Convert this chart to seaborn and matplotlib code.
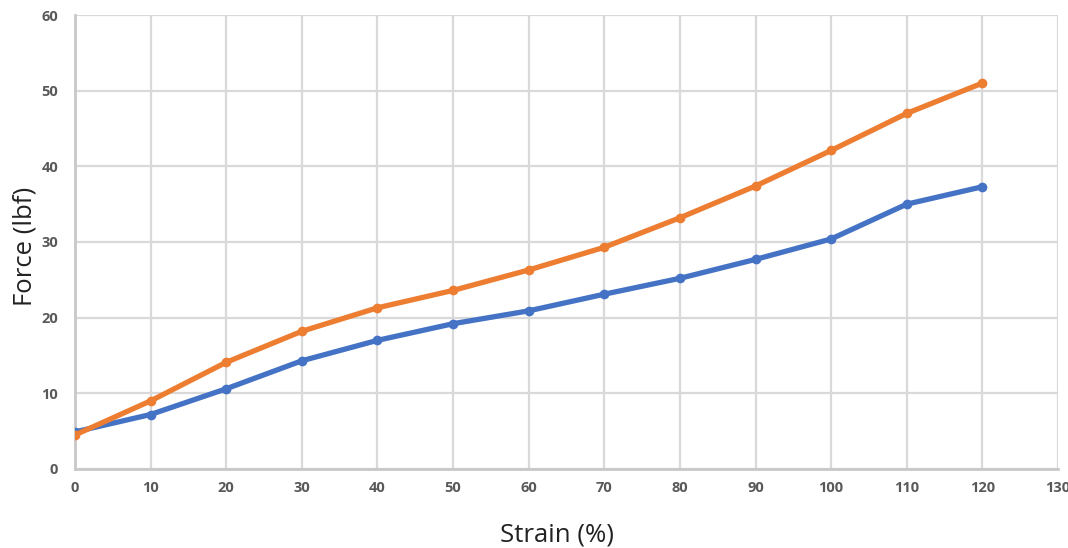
import matplotlib
matplotlib.use("Agg")
import matplotlib.pyplot as plt
import seaborn as sns
import pandas as pd

# strain (%) and measured force (lbf) for the two samples
strain = [0, 10, 20, 30, 40, 50, 60, 70, 80, 90, 100, 110, 120]
force_blue = [4.9, 7.2, 10.6, 14.3, 17.0, 19.2, 20.9, 23.1, 25.2, 27.7, 30.4, 35.0, 37.3]
force_orange = [4.5, 9.0, 14.1, 18.2, 21.3, 23.6, 26.3, 29.3, 33.2, 37.4, 42.1, 47.0, 51.0]

x_ticks = [0, 10, 20, 30, 40, 50, 60, 70, 80, 90, 100, 110, 120, 130]
y_ticks = [0, 10, 20, 30, 40, 50, 60]

df = pd.DataFrame({
    "strain": strain * 2,
    "force": force_blue + force_orange,
    "series": ["blue"] * len(strain) + ["orange"] * len(strain),
})

sns.set_style("white")
plt.rcParams["font.family"] = ["Open Sans", "DejaVu Sans"]

fig = plt.figure(figsize=(10.68, 5.48), dpi=100)
ax = fig.add_axes([0.0702, 0.1442, 0.9204, 0.8284])

sns.lineplot(data=df, x="strain", y="force", hue="series",
             palette={"blue": "#4472C4", "orange": "#ED7D31"},
             linewidth=3.8, marker="o", markersize=7, markeredgewidth=0,
             legend=False, ax=ax, zorder=3)

ax.set_xlim(0, 130)
ax.set_ylim(0, 60)
ax.set_xticks(x_ticks)
ax.set_yticks(y_ticks)
ax.grid(True, color="#d9d9d9", linewidth=1.6)
ax.set_axisbelow(True)

for side in ["top", "right"]:
    ax.spines[side].set_visible(False)
for side in ["left", "bottom"]:
    ax.spines[side].set_color("#c8c8c8")
    ax.spines[side].set_linewidth(2)

ax.tick_params(axis="both", length=0, labelsize=10.5, labelcolor="#595959")
for lab in ax.get_xticklabels() + ax.get_yticklabels():
    lab.set_fontweight("bold")
ax.tick_params(axis="x", pad=9)
ax.tick_params(axis="y", pad=12)

ax.set_xlabel("")
ax.set_ylabel("")
fig.text(557 / 1068, 1 - 535 / 548, "Strain (%)", fontsize=18.5, color="#222222",
         ha="center", va="center")
fig.text(25 / 1068, 1 - 246 / 548, "Force (lbf)", fontsize=18.5, color="#222222",
         ha="center", va="center", rotation=90)

fig.savefig("out.png", dpi=100)
